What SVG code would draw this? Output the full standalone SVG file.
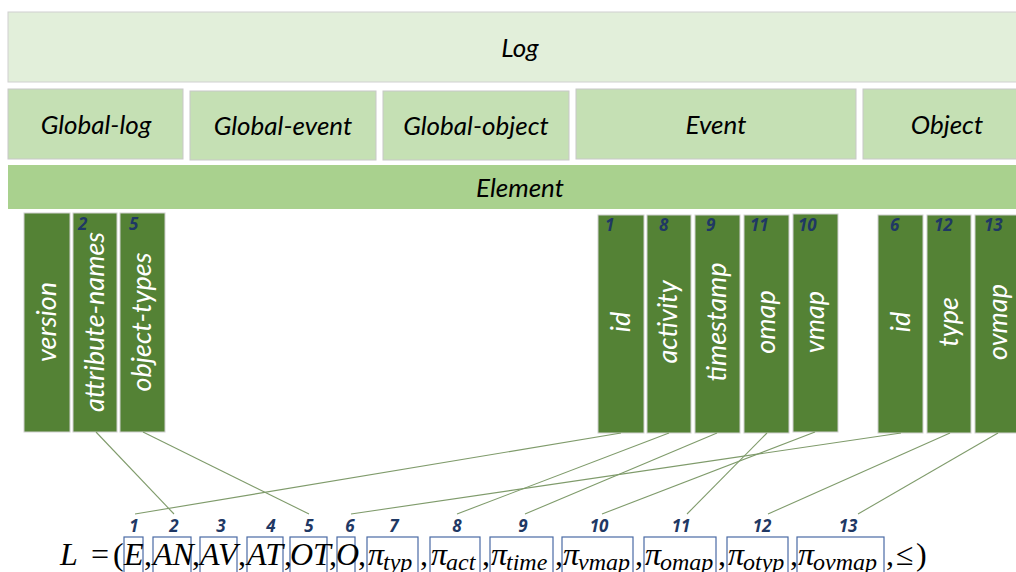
<svg xmlns="http://www.w3.org/2000/svg" width="1016" height="572" viewBox="0 0 1016 572">
  <style>
    .lbl { font-family: Lato, "Open Sans", sans-serif; font-style: italic; font-size: 26px; fill: #000; text-anchor: middle; }
    .bar { fill: #548235; stroke: #d0d0d0; stroke-width: 1; }
    .bartxt { font-family: Lato, "Open Sans", sans-serif; font-style: italic; font-size: 27px; fill: #fff; text-anchor: middle; }
    .num { font-family: "Open Sans", Lato, sans-serif; font-style: italic; font-weight: bold; font-size: 17px; fill: #1f3864; }
    .fnum { font-family: "Open Sans", Lato, sans-serif; font-style: italic; font-weight: bold; font-size: 17px; fill: #1f3864; text-anchor: middle; }
    .conn line { stroke: #7f9b6b; stroke-width: 1.1; }
    .term { fill: none; stroke: #4a6aa5; stroke-width: 1.2; }
    .m { font-family: "Liberation Serif", "Times New Roman", serif; font-size: 32px; fill: #000; }
    .mi { font-style: italic; }
    .sub { font-size: 24px; font-style: italic; }
  </style>

  <!-- containment layers -->
  <g id="log">
    <rect x="8" y="12" width="1010" height="70" fill="#e2efda" stroke="#d0d0d0"/>
    <text class="lbl" x="520" y="57">Log</text>
  </g>
  <g id="global-log">
    <rect x="8" y="89" width="175" height="70" fill="#c5e0b4" stroke="#c8c8c8"/>
    <text class="lbl" x="96" y="134">Global-log</text>
  </g>
  <g id="global-event">
    <rect x="190" y="91" width="186" height="69" fill="#c5e0b4" stroke="#c8c8c8"/>
    <text class="lbl" x="283" y="135">Global-event</text>
  </g>
  <g id="global-object">
    <rect x="383" y="91" width="186" height="69" fill="#c5e0b4" stroke="#c8c8c8"/>
    <text class="lbl" x="476" y="135">Global-object</text>
  </g>
  <g id="event">
    <rect x="576" y="89" width="280" height="70" fill="#c5e0b4" stroke="#c8c8c8"/>
    <text class="lbl" x="716" y="134">Event</text>
  </g>
  <g id="object">
    <rect x="863" y="89" width="155" height="70" fill="#c5e0b4" stroke="#c8c8c8"/>
    <text class="lbl" x="947" y="134">Object</text>
  </g>
  <g id="element">
    <rect x="8" y="165" width="1010" height="44" fill="#a9d18e"/>
    <text class="lbl" x="520" y="197">Element</text>
  </g>

  <!-- attribute bars -->
  <g id="bar-version">
    <rect class="bar" x="24" y="213" width="46" height="219"/>
    <text class="bartxt" transform="translate(56,322) rotate(-90)">version</text>
  </g>
  <g id="bar-attribute-names">
    <rect class="bar" x="73" y="213" width="44" height="219"/>
    <text class="num" x="78" y="230">2</text>
    <text class="bartxt" transform="translate(104,322) rotate(-90)">attribute-names</text>
  </g>
  <g id="bar-object-types">
    <rect class="bar" x="120" y="213" width="45" height="219"/>
    <text class="num" x="129" y="230">5</text>
    <text class="bartxt" transform="translate(151,322) rotate(-90)">object-types</text>
  </g>
  <g id="bar-event-id">
    <rect class="bar" x="598" y="215" width="46" height="218"/>
    <text class="num" x="605" y="231">1</text>
    <text class="bartxt" transform="translate(630,322) rotate(-90)">id</text>
  </g>
  <g id="bar-activity">
    <rect class="bar" x="647" y="215" width="44" height="218"/>
    <text class="num" x="659" y="231">8</text>
    <text class="bartxt" transform="translate(677,322) rotate(-90)">activity</text>
  </g>
  <g id="bar-timestamp">
    <rect class="bar" x="695" y="215" width="45" height="218"/>
    <text class="num" x="706" y="231">9</text>
    <text class="bartxt" transform="translate(726,322) rotate(-90)">timestamp</text>
  </g>
  <g id="bar-omap">
    <rect class="bar" x="744" y="215" width="45" height="218"/>
    <text class="num" x="750" y="231">11</text>
    <text class="bartxt" transform="translate(775,322) rotate(-90)">omap</text>
  </g>
  <g id="bar-vmap">
    <rect class="bar" x="793" y="214" width="45" height="218"/>
    <text class="num" x="798" y="231">10</text>
    <text class="bartxt" transform="translate(824,322) rotate(-90)">vmap</text>
  </g>
  <g id="bar-object-id">
    <rect class="bar" x="878" y="215" width="45" height="218"/>
    <text class="num" x="890" y="231">6</text>
    <text class="bartxt" transform="translate(910,322) rotate(-90)">id</text>
  </g>
  <g id="bar-type">
    <rect class="bar" x="927" y="215" width="44" height="218"/>
    <text class="num" x="934" y="231">12</text>
    <text class="bartxt" transform="translate(958,322) rotate(-90)">type</text>
  </g>
  <g id="bar-ovmap">
    <rect class="bar" x="975" y="215" width="45" height="218"/>
    <text class="num" x="984" y="231">13</text>
    <text class="bartxt" transform="translate(1007,322) rotate(-90)">ovmap</text>
  </g>

  <!-- mapping from attributes to tuple components -->
  <g id="connectors" class="conn">
    <line x1="96" y1="432" x2="174" y2="514"/>
    <line x1="143" y1="432" x2="309" y2="514"/>
    <line x1="621" y1="433" x2="135" y2="514"/>
    <line x1="901" y1="433" x2="351" y2="514"/>
    <line x1="669" y1="433" x2="457" y2="514"/>
    <line x1="717" y1="433" x2="525" y2="514"/>
    <line x1="815" y1="432" x2="602" y2="514"/>
    <line x1="767" y1="433" x2="687" y2="514"/>
    <line x1="950" y1="433" x2="768" y2="514"/>
    <line x1="998" y1="433" x2="858" y2="514"/>
  </g>

  <!-- tuple definition -->
  <g id="tuple">
    <g id="tuple-numbers">
      <text class="fnum" x="134" y="532">1</text>
      <text class="fnum" x="174" y="532">2</text>
      <text class="fnum" x="221" y="532">3</text>
      <text class="fnum" x="271" y="532">4</text>
      <text class="fnum" x="309" y="532">5</text>
      <text class="fnum" x="350" y="532">6</text>
      <text class="fnum" x="394" y="532">7</text>
      <text class="fnum" x="457" y="532">8</text>
      <text class="fnum" x="523" y="532">9</text>
      <text class="fnum" x="599" y="532">10</text>
      <text class="fnum" x="681" y="532">11</text>
      <text class="fnum" x="762" y="532">12</text>
      <text class="fnum" x="848" y="532">13</text>
    </g>
    <g id="tuple-boxes">
      <rect class="term" x="124" y="537" width="19" height="40"/>
      <rect class="term" x="153" y="537" width="38" height="40"/>
      <rect class="term" x="200" y="537" width="37" height="40"/>
      <rect class="term" x="247" y="537" width="36" height="40"/>
      <rect class="term" x="290" y="537" width="37" height="40"/>
      <rect class="term" x="337" y="537" width="18" height="40"/>
      <rect class="term" x="367" y="537" width="51" height="40"/>
      <rect class="term" x="430" y="537" width="50" height="40"/>
      <rect class="term" x="490" y="537" width="63" height="40"/>
      <rect class="term" x="562" y="537" width="71" height="40"/>
      <rect class="term" x="644" y="537" width="72" height="40"/>
      <rect class="term" x="727" y="537" width="61" height="40"/>
      <rect class="term" x="797" y="537" width="87" height="40"/>
    </g>
    <g id="tuple-text" class="m">
      <text x="60" y="565"><tspan class="mi">L</tspan><tspan x="91">=</tspan><tspan x="113">(</tspan></text>
      <text class="mi" x="124" y="565">E</text>
      <text x="144" y="565">,</text>
      <text class="mi" x="153" y="565">AN</text>
      <text x="192" y="565">,</text>
      <text class="mi" x="200" y="565">AV</text>
      <text x="238" y="565">,</text>
      <text class="mi" x="247" y="565">AT</text>
      <text x="284" y="565">,</text>
      <text class="mi" x="290" y="565">OT</text>
      <text x="329" y="565">,</text>
      <text class="mi" x="336" y="565">O</text>
      <text x="358" y="565">,</text>
      <text x="368" y="565"><tspan class="mi">π</tspan><tspan class="sub" x="383" y="570">typ</tspan></text>
      <text x="420" y="565">,</text>
      <text x="431" y="565"><tspan class="mi">π</tspan><tspan class="sub" x="446" y="570">act</tspan></text>
      <text x="482" y="565">,</text>
      <text x="491" y="565"><tspan class="mi">π</tspan><tspan class="sub" x="506" y="570">time</tspan></text>
      <text x="555" y="565">,</text>
      <text x="563" y="565"><tspan class="mi">π</tspan><tspan class="sub" x="578" y="570">vmap</tspan></text>
      <text x="635" y="565">,</text>
      <text x="645" y="565"><tspan class="mi">π</tspan><tspan class="sub" x="660" y="570">omap</tspan></text>
      <text x="718" y="565">,</text>
      <text x="728" y="565"><tspan class="mi">π</tspan><tspan class="sub" x="743" y="570">otyp</tspan></text>
      <text x="790" y="565">,</text>
      <text x="798" y="565"><tspan class="mi">π</tspan><tspan class="sub" x="813" y="570">ovmap</tspan></text>
      <text x="886" y="565">,<tspan x="896">≤</tspan><tspan x="916">)</tspan></text>
    </g>
  </g>
</svg>
